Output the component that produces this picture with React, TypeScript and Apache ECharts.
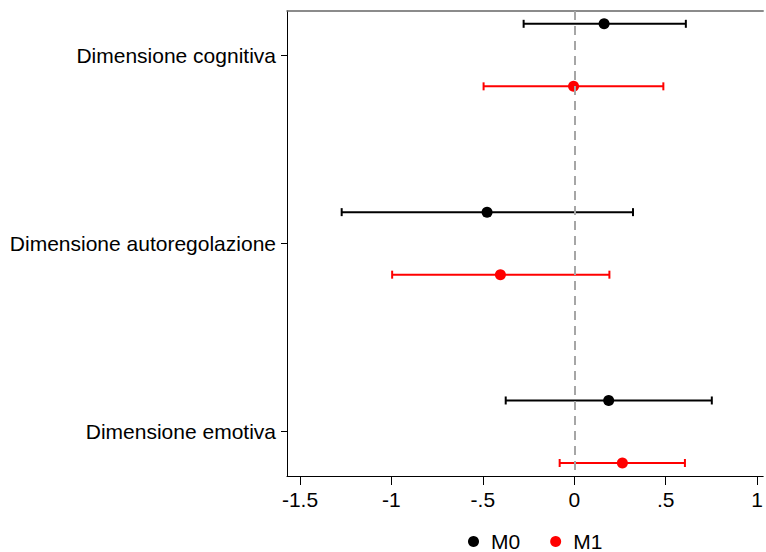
import React, { useEffect, useRef } from "react";
import * as echarts from "echarts";

const categories = ["Dimensione cognitiva", "Dimensione autoregolazione", "Dimensione emotiva"];
const m0Est = [0.163, -0.477, 0.188];
const m0Lo = [-0.277, -1.272, -0.375];
const m0Hi = [0.61, 0.321, 0.752];
const m1Est = [-0.004, -0.404, 0.263];
const m1Lo = [-0.496, -0.996, -0.08];
const m1Hi = [0.487, 0.192, 0.605];
const xTicks = [-1.5, -1, -0.5, 0, 0.5, 1];
const catPos = [1, 2, 3];

const FONT = "'Liberation Sans', Arial, sans-serif";
const OFFSET = 0.166;

function fmtTick(v: number): string {
  if (v === 0) return "0";
  let s = String(v);
  s = s.replace(/^0\./, ".").replace(/^-0\./, "-.");
  return s;
}

function errSeries(name: string, color: string, lo: number[], hi: number[], off: number) {
  return {
    type: "custom",
    name: name + "_ci",
    z: 2,
    silent: true,
    data: lo.map((l, i) => [l, hi[i], catPos[i] + off]),
    encode: { x: [0, 1], y: 2 },
    renderItem: (params: any, api: any) => {
      const a = api.coord([api.value(0), api.value(2)]);
      const b = api.coord([api.value(1), api.value(2)]);
      const h = 4;
      const style = { stroke: color, lineWidth: 2 };
      return {
        type: "group",
        children: [
          { type: "line", shape: { x1: a[0], y1: a[1], x2: b[0], y2: b[1] }, style },
          { type: "line", shape: { x1: a[0], y1: a[1] - h, x2: a[0], y2: a[1] + h }, style },
          { type: "line", shape: { x1: b[0], y1: b[1] - h, x2: b[0], y2: b[1] + h }, style },
        ],
      };
    },
  };
}

export default function App() {
  const ref = useRef<HTMLDivElement>(null);
  useEffect(() => {
    document.body.style.margin = "0";
    const chart = echarts.init(ref.current!, null, { renderer: "svg" });
    chart.setOption({
      animation: false,
      backgroundColor: "#ffffff",
      textStyle: { fontFamily: FONT },
      grid: { left: 287, right: 0, top: 11, bottom: 76, containLabel: false },
      legend: {
        data: ["M0", "M1"],
        left: 463,
        top: 526,
        icon: "circle",
        itemWidth: 11,
        itemHeight: 11,
        itemGap: 30,
        textStyle: { fontSize: 21, color: "#000", fontFamily: FONT, padding: [0, 0, 0, 7] },
      },
      xAxis: [
        {
          type: "value",
          position: "bottom",
          min: -1.571,
          max: 1.033,
          splitLine: { show: false },
          axisLine: { show: true, onZero: false, lineStyle: { color: "#000", width: 1 } },
          axisTick: { show: true, length: 9, customValues: xTicks, lineStyle: { color: "#000", width: 1 } },
          axisLabel: {
            customValues: xTicks,
            formatter: (v: number) => fmtTick(v),
            fontSize: 21,
            color: "#000",
            fontFamily: FONT,
            margin: 13,
          },
        },
        {
          type: "value",
          position: "top",
          min: -1.571,
          max: 1.033,
          splitLine: { show: false },
          axisLine: { show: true, onZero: false, lineStyle: { color: "#666", width: 1.5 } },
          axisTick: { show: false },
          axisLabel: { show: false },
        },
      ],
      yAxis: {
        type: "value",
        inverse: true,
        min: 0.766,
        max: 3.235,
        splitLine: { show: false },
        axisLine: { show: true, onZero: false, lineStyle: { color: "#000", width: 1 } },
        axisTick: { show: true, length: 6, customValues: catPos, lineStyle: { color: "#000", width: 1 } },
        axisLabel: {
          customValues: catPos,
          formatter: (v: number) => categories[Math.round(v) - 1] ?? "",
          fontSize: 21,
          color: "#000",
          fontFamily: FONT,
          margin: 11,
        },
      },
      series: [
        {
          type: "scatter",
          name: "__ref",
          data: [],
          silent: true,
          markLine: {
            silent: true,
            symbol: ["none", "none"],
            label: { show: false },
            lineStyle: { color: "#a6a6a6", type: [9, 6], width: 2 },
            data: [{ xAxis: 0 }],
          },
          z: 1,
        },
        errSeries("M0", "#000000", m0Lo, m0Hi, -OFFSET),
        errSeries("M1", "#ff0000", m1Lo, m1Hi, OFFSET),
        {
          type: "scatter",
          name: "M0",
          symbol: "circle",
          symbolSize: 11,
          itemStyle: { color: "#000000", opacity: 1 },
          data: m0Est.map((v, i) => [v, catPos[i] - OFFSET]),
          z: 3,
        },
        {
          type: "scatter",
          name: "M1",
          symbol: "circle",
          symbolSize: 11,
          itemStyle: { color: "#ff0000", opacity: 1 },
          data: m1Est.map((v, i) => [v, catPos[i] + OFFSET]),
          z: 3,
        },
      ],
    });
    return () => chart.dispose();
  }, []);
  return <div ref={ref} style={{ width: 766, height: 552 }} />;
}
